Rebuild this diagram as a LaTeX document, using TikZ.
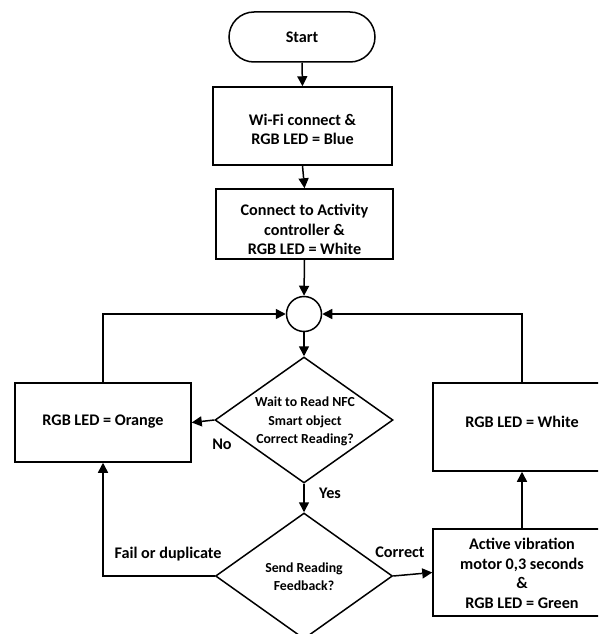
\documentclass[tikz,border=0pt]{standalone}
\usepackage{fontspec}
\setmainfont{Carlito}
\usetikzlibrary{shapes.geometric,arrows.meta}
\begin{document}
\begin{tikzpicture}[x=1pt,y=-1pt,
  every node/.style={font=\fontsize{16.2}{19.5}\selectfont\bfseries},
  flow/.style={line width=1.5pt},
  arr/.style={flow,-{Triangle[length=10pt,width=10pt]}},
  procbox/.style={draw,line width=1.5pt,rectangle,inner sep=0pt},
  decision/.style={draw,line width=1.5pt,diamond,inner sep=0pt},
  txt/.style={inner sep=0pt,align=center},
  dtxt/.style={txt,font=\fontsize{13.8}{18.5}\selectfont\bfseries},
  lbl/.style={inner sep=0pt}
]
\useasboundingbox (0,0) rectangle (598,634);
\clip (0,0) rectangle (598,634);

% terminal and set-up steps
\node[draw,line width=1.5pt,rounded corners=25pt,minimum width=146pt,minimum height=50pt,inner sep=0pt]
  (start) at (302,37) {Start};
\node[procbox,minimum width=179pt,minimum height=78pt] (wifi) at (302.5,126) {};
\node[txt] (wifi-t) at (302.5,129.5) {Wi-Fi connect \&\\RGB LED = Blue};
\node[procbox,minimum width=177pt,minimum height=70pt] (ctrl) at (304.5,224) {};
\node[txt] (ctrl-t) at (304.5,229.5) {Connect to Activity\\controller \&\\RGB LED = White};

% loop junction
\node[draw,line width=1.5pt,circle,minimum size=35pt,inner sep=0pt] (join) at (304,314) {};

% decisions
\node[decision,minimum width=178pt,minimum height=126pt] (read) at (304,420) {};
\node[dtxt] (read-t) at (305,421.5) {Wait to Read NFC\\Smart object\\Correct Reading?};
\node[decision,minimum width=177pt,minimum height=126pt] (send) at (304,576) {};
\node[dtxt,font=\fontsize{13.8}{18}\selectfont\bfseries] (send-t) at (304,577)
  {Send Reading\\Feedback?};

% outcome boxes
\node[procbox,minimum width=176pt,minimum height=79pt] (orange) at (103,422.5) {};
\node[txt] (orange-t) at (103,422) {RGB LED = Orange};
\node[procbox,minimum width=178pt,minimum height=88pt] (white) at (522,427) {};
\node[txt] (white-t) at (522,422) {RGB LED = White};
\node[procbox,minimum width=178pt,minimum height=87pt] (green) at (522,572.5) {};
\node[txt] (green-t) at (522,573.5) {Active vibration\\motor 0,3 seconds\\\&\\RGB LED = Green};

% connectors
\draw[arr] (start.south) -- (wifi.north);
\draw[arr] (wifi.south) -- (ctrl.north);
\draw[arr] (ctrl.south) -- (join.north);
\draw[arr] (join.south) -- (read.north);
\draw[arr] (read.west) -- (orange.east);
\draw[arr] (read.south) -- (send.north);
\draw[arr] (send.west) -| (orange.south);
\draw[arr] (send.east) -- (green.west);
\draw[arr] (green.north -| white.south) -- (white.south);
\draw[arr] (orange.north) |- (join.west);
\draw[arr] (white.north) |- (join.east);

% connector labels
\node[lbl] (no) at (222,444) {No};
\node[lbl] (yes) at (330,493) {Yes};
\node[lbl] (fail) at (168,554) {Fail or duplicate};
\node[lbl] (ok) at (400,552) {Correct};
\end{tikzpicture}
\end{document}
